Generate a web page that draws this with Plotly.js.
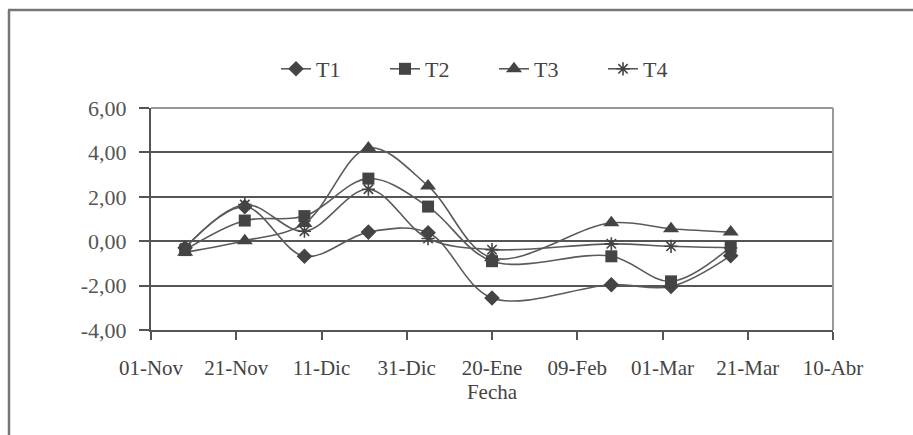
<!DOCTYPE html>
<html>
<head>
<meta charset="utf-8">
<script src="https://cdn.plot.ly/plotly-3.0.1.min.js"></script>
<style>
  html, body { margin: 0; padding: 0; background: #fff; }
  #chart { width: 913px; height: 435px; }
</style>
</head>
<body>
<div id="chart"></div>
<script>
// Data
const fechas = ['2002-11-09','2002-11-23','2002-12-07','2002-12-22','2003-01-05','2003-01-20','2003-02-17','2003-03-03','2003-03-17'];
const T1 = [-0.30, 1.55, -0.68, 0.41, 0.38, -2.56, -1.96, -2.04, -0.65];
const T2 = [-0.40, 0.93, 1.13, 2.82, 1.56, -0.90, -0.68, -1.81, -0.25];
const T3 = [-0.50, 0.02, 0.80, 4.20, 2.49, -0.75, 0.83, 0.56, 0.41];
const T4 = [-0.30, 1.65, 0.45, 2.34, 0.12, -0.38, -0.12, -0.23, -0.30];
const seriesNames = ['T1', 'T2', 'T3', 'T4'];
const tickDates = ['2002-11-01','2002-11-21','2002-12-11','2002-12-31','2003-01-20','2003-02-09','2003-03-01','2003-03-21','2003-04-10'];
const tickLabels = ['01-Nov','21-Nov','11-Dic','31-Dic','20-Ene','09-Feb','01-Mar','21-Mar','10-Abr'];
const yTicks = [-4, -2, 0, 2, 4, 6];
const yTickLabels = ['-4,00','-2,00','0,00','2,00','4,00','6,00'];

const serif = '"Liberation Serif", "Times New Roman", serif';
const lineCol = '#5a5a5a';
const markCol = '#444444';
const symbols = ['diamond', 'square', 'triangle-up', 'asterisk-open'];
const sizes = [12, 12, 14, 11];
const allY = [T1, T2, T3, T4];

const traces = allY.map((ys, i) => ({
  type: 'scatter',
  mode: 'lines+markers',
  name: seriesNames[i],
  x: fechas,
  y: ys,
  line: { color: lineCol, width: 1.6, shape: 'spline', smoothing: 1 },
  marker: {
    symbol: symbols[i],
    size: sizes[i],
    color: markCol,
    line: { color: markCol, width: i === 3 ? 1.6 : 0 }
  }
}));

const L = 151, R = 833, T = 108, B = 330;
const W = 913, H = 435;
const px = v => (v - L) / (R - L);
const py = v => (B - v) / (B - T);

const layout = {
  width: W,
  height: H,
  margin: { l: L, r: W - R, t: T, b: H - B },
  paper_bgcolor: '#ffffff',
  plot_bgcolor: '#ffffff',
  showlegend: true,
  legend: {
    orientation: 'h',
    x: px(276), xanchor: 'left',
    y: py(69), yanchor: 'middle',
    font: { family: serif, size: 22, color: '#444' },
    entrywidth: 64,
    entrywidthmode: 'pixels',
    tracegroupgap: 0,
    bgcolor: 'rgba(0,0,0,0)'
  },
  xaxis: {
    type: 'date',
    range: ['2002-11-01', '2003-04-10'],
    tickmode: 'array',
    tickvals: tickDates,
    ticktext: tickLabels,
    ticks: 'outside',
    ticklen: 8,
    tickwidth: 2,
    tickcolor: '#555',
    ticklabelstandoff: 10,
    showgrid: false,
    showline: true,
    linecolor: '#555',
    linewidth: 2,
    zeroline: false,
    tickfont: { family: serif, size: 21, color: '#444' },
    title: { text: 'Fecha', font: { family: serif, size: 21, color: '#444' }, standoff: 2 }
  },
  yaxis: {
    range: [-4, 6],
    tickmode: 'array',
    tickvals: yTicks,
    ticktext: yTickLabels,
    ticks: 'outside',
    ticklen: 10,
    tickwidth: 2,
    tickcolor: '#555',
    ticklabelstandoff: 8,
    showgrid: true,
    gridcolor: '#555',
    gridwidth: 2,
    showline: true,
    linecolor: '#555',
    linewidth: 2,
    zeroline: false,
    tickfont: { family: serif, size: 22, color: '#555' }
  },
  shapes: [
    { type: 'line', xref: 'paper', yref: 'paper', x0: 0, x1: 1, y0: 1, y1: 1, line: { color: '#999', width: 2 }, layer: 'above' },
    { type: 'line', xref: 'paper', yref: 'paper', x0: 1, x1: 1, y0: 0, y1: 1, line: { color: '#999', width: 2 }, layer: 'above' },
    { type: 'line', xref: 'paper', yref: 'paper', x0: px(9), x1: px(9), y0: py(10), y1: py(440), line: { color: '#777', width: 2.5 }, layer: 'above' },
    { type: 'line', xref: 'paper', yref: 'paper', x0: px(8), x1: px(920), y0: py(10), y1: py(10), line: { color: '#777', width: 2.5 }, layer: 'above' }
  ]
};

Plotly.newPlot('chart', traces, layout, { displayModeBar: false, staticPlot: true });
</script>
</body>
</html>
